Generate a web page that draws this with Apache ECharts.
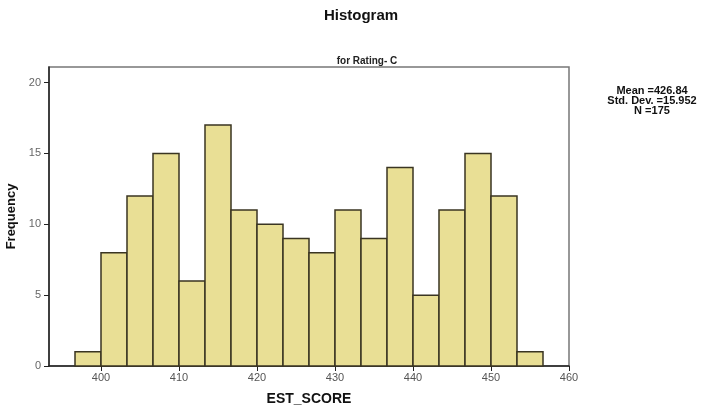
<!DOCTYPE html>
<html>
<head>
<meta charset="utf-8">
<script src="https://cdn.jsdelivr.net/npm/echarts@6/dist/echarts.min.js"></script>
<style>html,body{margin:0;padding:0;background:#fff}#c{width:722px;height:412px}</style>
</head>
<body>
<div id="c"></div>
<script>
const binStarts = [396.667, 400, 403.333, 406.667, 410, 413.333, 416.667, 420, 423.333, 426.667, 430, 433.333, 436.667, 440, 443.333, 446.667, 450, 453.333];
const binEnds   = [400, 403.333, 406.667, 410, 413.333, 416.667, 420, 423.333, 426.667, 430, 433.333, 436.667, 440, 443.333, 446.667, 450, 453.333, 456.667];
const frequencies = [1, 8, 12, 15, 6, 17, 11, 10, 9, 8, 11, 9, 14, 5, 11, 15, 12, 1];
const xTickLabels = [400, 410, 420, 430, 440, 450, 460];
const yTickLabels = [0, 5, 10, 15, 20];
const statLines = ['Mean =426.84', 'Std. Dev. =15.952', 'N =175'];

const chart = echarts.init(document.getElementById('c'));
const font = '"Liberation Sans", Arial, sans-serif';
const data = frequencies.map((f, i) => [binStarts[i], binEnds[i], f]);

chart.setOption({
  animation: false,
  backgroundColor: '#ffffff',
  title: [
    { text: 'Histogram', left: 'center', top: 3,
      textStyle: { fontFamily: font, fontWeight: 'bold', fontSize: 15, color: '#111' } },
    { text: 'for Rating- C', left: 362, textAlign: 'center', top: 51,
      textStyle: { fontFamily: font, fontWeight: 'bold', fontSize: 10, color: '#222' } }
  ],
  graphic: [{
    type: 'text', x: 652, y: 86,
    style: { text: statLines.join('\n'), fontFamily: font, fontWeight: 'bold', fontSize: 11,
      lineHeight: 10, fill: '#111', align: 'center', verticalAlign: 'top' }
  }],
  grid: { left: 49, right: 153, top: 67, bottom: 46, show: true, borderColor: '#777', borderWidth: 1.5,
    outerBoundsMode: 'none', containLabel: false },
  xAxis: {
    type: 'value', min: 393.333, max: 460,
    name: 'EST_SCORE', nameLocation: 'middle', nameGap: 26,
    nameTextStyle: { fontFamily: font, fontWeight: 'bold', fontSize: 14, color: '#111' },
    axisLine: { show: true, lineStyle: { color: '#222', width: 1.5 } },
    axisTick: { show: true, length: 5, customValues: xTickLabels, lineStyle: { color: '#222' } },
    axisLabel: { customValues: xTickLabels, fontFamily: font, fontSize: 11, color: '#555', margin: 6 },
    splitLine: { show: false }
  },
  yAxis: {
    type: 'value', min: 0, max: 21.1,
    name: 'Frequency', nameLocation: 'middle', nameGap: 31, nameRotate: 90,
    nameTextStyle: { fontFamily: font, fontWeight: 'bold', fontSize: 13, color: '#111' },
    axisLine: { show: true, lineStyle: { color: '#222', width: 1.5 } },
    axisTick: { show: true, length: 5, customValues: yTickLabels, lineStyle: { color: '#222' } },
    axisLabel: { customValues: yTickLabels, fontFamily: font, fontSize: 11, color: '#666', margin: 8 },
    splitLine: { show: false }
  },
  series: [{
    type: 'custom',
    data: data,
    encode: { x: [0, 1], y: 2 },
    renderItem: function (params, api) {
      const p0 = api.coord([api.value(0), api.value(2)]);
      const p1 = api.coord([api.value(1), 0]);
      return {
        type: 'rect',
        shape: { x: p0[0], y: p0[1], width: p1[0] - p0[0], height: p1[1] - p0[1] },
        style: { fill: '#e9df95', stroke: '#3a3522', lineWidth: 1.5 }
      };
    }
  }]
});
</script>
</body>
</html>
